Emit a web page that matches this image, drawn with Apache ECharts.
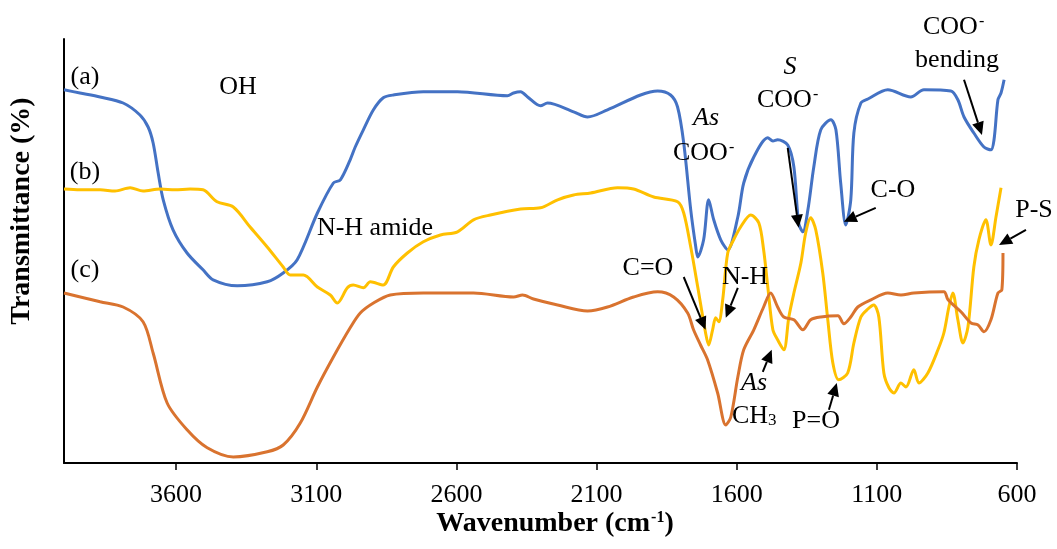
<!DOCTYPE html>
<html>
<head>
<meta charset="utf-8">
<script src="https://cdn.jsdelivr.net/npm/echarts@6/dist/echarts.min.js"></script>
<style>
  html, body { margin: 0; padding: 0; background: #fff; }
  #chart { width: 1057px; height: 549px; }
</style>
</head>
<body>
<div id="chart"></div>
<script>
// wavenumber (cm-1) and transmittance (arbitrary, offset)
var aWn = [4000, 3943, 3871, 3789, 3729, 3700, 3682, 3664, 3646, 3611, 3561, 3504, 3468, 3382, 3275, 3218, 3168, 3096, 3039, 3014,
    2979, 2961, 2932, 2896, 2861, 2825, 2718, 2596, 2418, 2396, 2371, 2346, 2300, 2275, 2182, 2132, 2061, 1943, 1882, 1836,
    1811, 1789, 1764, 1746, 1739, 1718, 1700, 1682, 1657, 1632, 1596, 1575, 1539, 1489, 1471, 1454, 1418, 1396, 1379, 1364,
    1346, 1325, 1300, 1264, 1246, 1229, 1211, 1193, 1182, 1157, 1132, 1061, 979, 932, 836, 811, 789, 754, 718, 693,
    682, 668, 657, 646];
var aT = [93.3, 92.5, 91.5, 90, 87, 84, 80, 72.5, 65.8, 58.3, 52.5, 48.3, 45.8, 44.3, 45.3, 47.5, 50.8, 62.5, 70, 70.8,
    75.8, 79, 83.3, 88.3, 91.3, 92, 92.8, 92.8, 91.8, 92.5, 92.8, 91.5, 89.3, 90, 87.8, 86.5, 88.3, 92, 93, 92,
    89, 80, 63.3, 54, 51.5, 55.8, 65.8, 60.8, 55.8, 53.3, 61.5, 70, 76.5, 81.3, 80.5, 80.8, 79.5, 74, 60, 57.8,
    63.3, 74, 83.3, 85.8, 83.3, 70, 59.5, 65.8, 82.5, 90, 91, 93.3, 91.5, 93.3, 93, 90.8, 86.5, 82.5, 79, 78.3,
    80.8, 90.8, 92.5, 95.8];

var bWn = [4000, 3943, 3871, 3818, 3764, 3718, 3657, 3604, 3550, 3504, 3454, 3396, 3336, 3275, 3218, 3193, 3146, 3096, 3050, 3025,
    2989, 2968, 2932, 2907, 2861, 2825, 2775, 2718, 2657, 2596, 2539, 2479, 2371, 2300, 2239, 2182, 2121, 2025, 1968, 1896,
    1811, 1789, 1764, 1739, 1711, 1700, 1686, 1675, 1664, 1650, 1632, 1611, 1586, 1550, 1521, 1504, 1489, 1471, 1454, 1432,
    1414, 1396, 1371, 1354, 1336, 1318, 1293, 1275, 1257, 1236, 1204, 1182, 1157, 1132, 1111, 1093, 1075, 1057, 1039, 1014,
    996, 968, 950, 918, 882, 861, 843, 829, 811, 793, 775, 754, 736, 711, 693, 675, 657];
var bT = [68.5, 68.3, 68.3, 68, 68.8, 68, 68.5, 68.3, 68.5, 68.3, 65.3, 64, 59, 54, 49, 47, 47, 44, 42, 40,
    43.8, 44.5, 43.8, 45.3, 44.5, 49, 52.5, 55.3, 57, 57.8, 60.8, 62, 63.5, 63.8, 65.8, 67, 67.5, 68.8, 68.5, 66.5,
    65.3, 62.5, 54, 44, 32.5, 29.5, 33.3, 36.3, 35.3, 40.8, 52.5, 55.8, 59, 62, 60, 53.3, 44, 33.3, 30.8, 28.3,
    36.5, 42.5, 50, 57.5, 61.3, 58.3, 47.5, 35.8, 25, 20.8, 22.5, 30, 36.5, 38.5, 39.5, 36.5, 22.5, 18.8, 17.5, 20,
    19, 23.3, 20, 22.5, 28.3, 32.5, 39, 42.5, 35.8, 30, 34, 49, 55.8, 60.8, 54.5, 61.5, 68.8];

var cWn = [4000, 3871, 3789, 3718, 3682, 3632, 3561, 3489, 3396, 3275, 3218, 3157, 3096, 3039, 2979, 2943, 2896, 2836, 2718, 2539,
    2396, 2364, 2325, 2239, 2132, 2061, 1968, 1882, 1825, 1775, 1754, 1729, 1704, 1668, 1639, 1621, 1596, 1575, 1539, 1504,
    1479, 1454, 1432, 1396, 1364, 1336, 1300, 1239, 1218, 1193, 1168, 1121, 1061, 1014, 968, 861, 846, 800, 764, 739,
    718, 693, 668, 654, 650];
var cT = [42.5, 40.3, 39, 35.3, 27.5, 15, 8.3, 3.8, 1.5, 2.8, 4.5, 10, 19, 26.5, 33.8, 37.5, 40, 42, 42.5, 42.5,
    41.5, 42, 41, 39.5, 38, 39, 41.5, 42.8, 41.5, 37.5, 33.3, 29.5, 25.8, 17.5, 9.5, 11.5, 21.5, 28.3, 33.3, 39,
    42.5, 39, 36.5, 35.8, 33.3, 35.8, 36.5, 36.8, 34.8, 36.5, 39, 40.8, 42.5, 42, 42.5, 42.8, 40.8, 37.8, 35, 34.5,
    32.8, 35.8, 42.5, 43.3, 52.5];

var seriesNames = ['(a)', '(b)', '(c)'];
var seriesColors = ['#4472C4', '#FFC000', '#D9732F'];
var xTicks = [3600, 3100, 2600, 2100, 1600, 1100, 600];

// arrows [wavenumber, transmittance] from -> to
var arrows = [
    [[1418, 78.8], [1379, 58.8]],   // S COO-
    [[1104, 63.8], [1218, 60.3]],   // C-O
    [[789, 95.8], [725, 82]],       // COO- bending
    [[568, 58.3], [664, 54.5]],     // P-S
    [[1789, 46.5], [1711, 33.3]],   // C=O
    [[1596, 43.8], [1639, 36.3]],   // N-H
    [[1507, 22.8], [1475, 28.3]],   // As CH3
    [[1271, 13.3], [1243, 20]]      // P=O
];

function zip(xs, ys) {
    var out = [];
    for (var i = 0; i < xs.length; i++) out.push([xs[i], ys[i]]);
    return out;
}

var serif = '"Liberation Serif", "Times New Roman", serif';
var fs = 26;

var chart = echarts.init(document.getElementById('chart'));
var lines = [zip(aWn, aT), zip(bWn, bT), zip(cWn, cT)];

var option = {
    backgroundColor: '#fff',
    animation: false,
    grid: { left: 64, right: 40, top: 39, bottom: 86 },
    xAxis: {
        type: 'value',
        min: 600,
        max: 4000,
        interval: 500,
        inverse: true,
        axisLine: { lineStyle: { color: '#000', width: 2 } },
        axisTick: { length: 7, lineStyle: { color: '#000', width: 1.5 } },
        axisLabel: {
            showMaxLabel: false,
            margin: 19,
            color: '#000',
            fontFamily: serif,
            fontSize: fs,
            formatter: function (v) { return xTicks.indexOf(v) >= 0 ? String(v) : ''; }
        },
        splitLine: { show: false }
    },
    yAxis: {
        type: 'value',
        min: 0,
        max: 106,
        axisLine: { show: true, lineStyle: { color: '#000', width: 2 } },
        axisTick: { show: false },
        axisLabel: { show: false },
        splitLine: { show: false }
    },
    series: lines.map(function (d, i) {
        return {
            name: seriesNames[i],
            type: 'line',
            data: d,
            showSymbol: false,
            smooth: 0.3,
            lineStyle: { color: seriesColors[i], width: 3 }
        };
    })
};
chart.setOption(option);

// annotation texts (pixel positions)
function txt(x, y, text, opts) {
    opts = opts || {};
    return {
        type: 'text', x: x, y: y, z: 100,
        rotation: opts.rotation || 0,
        style: {
            text: text,
            fill: '#000',
            fontFamily: serif,
            fontSize: opts.size || fs,
            fontWeight: opts.bold ? 'bold' : 'normal',
            fontStyle: opts.italic ? 'italic' : 'normal',
            align: opts.align || 'center',
            verticalAlign: 'middle',
            rich: {
                n: { fontFamily: serif, fontSize: opts.size || fs, fontWeight: opts.bold ? 'bold' : 'normal', verticalAlign: 'middle' },
                sup: { fontFamily: serif, fontSize: 16, fontWeight: opts.bold ? 'bold' : 'normal', verticalAlign: 'top', padding: [0, 0, 0, 1] },
                sub: { fontFamily: serif, fontSize: 17, verticalAlign: 'bottom', padding: [6, 0, 0, 0] }
            }
        }
    };
}

var graphics = [
    txt(85, 77, '(a)'),
    txt(85, 172, '(b)'),
    txt(85, 270, '(c)'),
    txt(238, 87, 'OH'),
    txt(375, 228, 'N-H amide'),
    txt(706, 118, 'As', { italic: true }),
    txt(673, 153, '{n|COO}{sup|-}', { align: 'left' }),
    txt(790, 67, 'S', { italic: true }),
    txt(757, 100, '{n|COO}{sup|-}', { align: 'left' }),
    txt(923, 27, '{n|COO}{sup|-}', { align: 'left' }),
    txt(957, 60, 'bending'),
    txt(893, 190, 'C-O'),
    txt(1034, 210, 'P-S'),
    txt(648, 268, 'C=O'),
    txt(745, 277, 'N-H'),
    txt(754, 383, 'As', { italic: true }),
    txt(732, 416, '{n|CH}{sub|3}', { align: 'left' }),
    txt(816, 421, 'P=O'),
    txt(22, 211, 'Transmittance (%)', { bold: true, rotation: Math.PI / 2, size: 28 }),
    txt(555, 524, '{n|Wavenumber (cm}{sup|-1}{n|)}', { bold: true, size: 28 })
];

// arrows drawn from data coordinates
arrows.forEach(function (a) {
    var p0 = chart.convertToPixel({ gridIndex: 0 }, a[0]);
    var p1 = chart.convertToPixel({ gridIndex: 0 }, a[1]);
    var dx = p1[0] - p0[0], dy = p1[1] - p0[1];
    var len = Math.sqrt(dx * dx + dy * dy);
    var ux = dx / len, uy = dy / len;
    var hl = 13, hw = 6;
    var bx = p1[0] - ux * hl, by = p1[1] - uy * hl;
    graphics.push({
        type: 'line', z: 100,
        shape: { x1: p0[0], y1: p0[1], x2: bx, y2: by },
        style: { stroke: '#000', lineWidth: 2 }
    });
    graphics.push({
        type: 'polygon', z: 100,
        shape: { points: [[p1[0], p1[1]], [bx - uy * hw, by + ux * hw], [bx + uy * hw, by - ux * hw]] },
        style: { fill: '#000' }
    });
});

chart.setOption({ graphic: graphics });
</script>
</body>
</html>
